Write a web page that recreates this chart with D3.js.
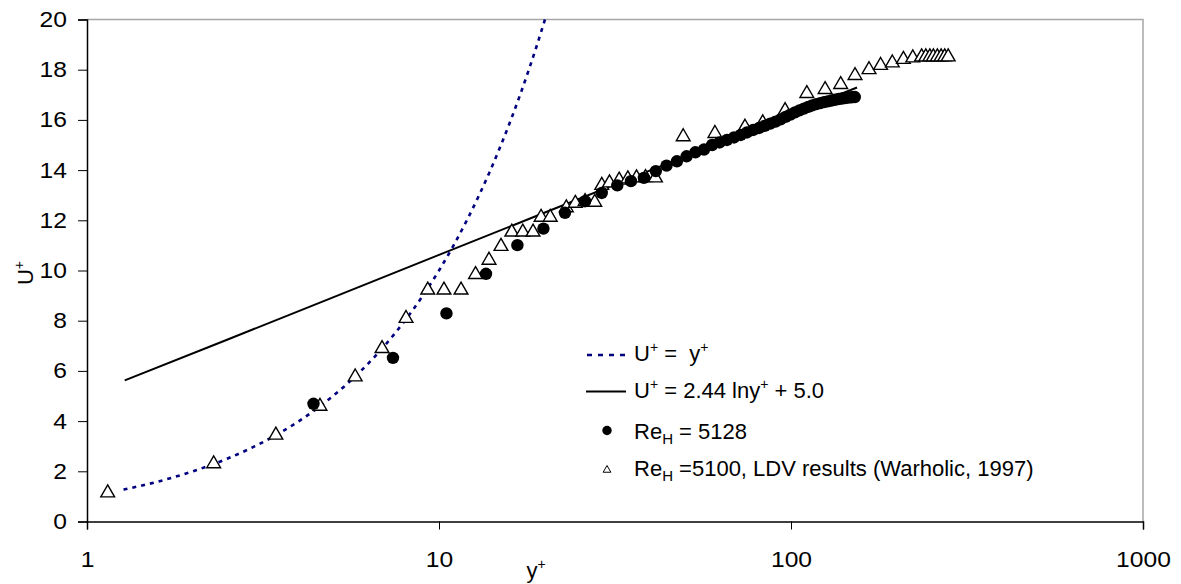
<!DOCTYPE html>
<html>
<head>
<meta charset="utf-8">
<script src="https://cdn.jsdelivr.net/npm/d3@7"></script>
<style>
	body { margin: 0; background: #fff; }
	svg { display: block; font-family: "Liberation Sans", Arial, sans-serif; }
	.axis text { font-size: 22px; fill: #000; }
	.axis path, .axis line { stroke: #000; }
</style>
</head>
<body>
<script>
// y+ / U+ values
var xTicks = [1, 10, 100, 1000];
var yTicks = [0, 2, 4, 6, 8, 10, 12, 14, 16, 18, 20];

// U+ = y+ (viscous sublayer)
var linearYp = [1.27, 1.5, 2, 2.5, 3, 3.5, 4, 5, 6, 7, 8, 9, 10, 11, 12, 13, 14, 15, 16, 17, 18, 19, 20];
var linearUp = [1.27, 1.5, 2, 2.5, 3, 3.5, 4, 5, 6, 7, 8, 9, 10, 11, 12, 13, 14, 15, 16, 17, 18, 19, 20];

// U+ = 2.44 ln y+ + 5.0 (log law)
var logYp = [1.28, 2.5, 5, 10, 20, 40, 80, 154];
var logUp = [5.62, 7.24, 8.93, 10.62, 12.31, 14.0, 15.69, 17.29];

// Re_H = 5128
var simYp = [4.4, 7.4, 10.5, 13.6, 16.7, 19.8, 22.8, 26.0, 29.0, 32.1, 35.1, 38.2, 41.3, 44.3, 47.4,
	50.5, 53.5, 56.6, 59.7, 62.7, 65.8, 68.9, 72.0, 75.0, 78.1, 81.2, 84.2, 87.3, 90.4, 93.4,
	96.5, 99.6, 102.6, 105.7, 108.8, 111.9, 114.9, 118.0, 121.1, 124.1, 127.2, 130.3, 133.3,
	136.4, 139.5, 142.5, 145.6, 148.7, 151.8];
var simUp = [4.69, 6.52, 8.29, 9.87, 11.01, 11.67, 12.30, 12.76, 13.09, 13.39, 13.56, 13.69, 13.96, 14.18, 14.35,
	14.55, 14.71, 14.82, 15.00, 15.10, 15.20, 15.30, 15.40, 15.50, 15.60, 15.68, 15.76, 15.85, 15.93, 16.02,
	16.12, 16.21, 16.30, 16.38, 16.45, 16.52, 16.58, 16.63, 16.67, 16.71, 16.74, 16.77, 16.80,
	16.83, 16.85, 16.87, 16.89, 16.90, 16.91];

// Re_H = 5100, LDV (Warholic, 1997)
var ldvYp = [1.145, 2.29, 3.44, 4.59, 5.78, 6.89, 8.06, 9.29, 10.33, 11.55, 12.7, 13.87, 15.0, 16.1, 17.3, 18.5,
	19.5, 20.7, 23.0, 24.4, 26.0, 27.7, 29.0, 30.5, 32.5, 34.4, 36.4, 38.6, 41.2, 49.4, 60.8, 74.0, 83.1,
	96.2, 110.9, 125.0, 138.4, 152.0, 166.6, 179.7, 194.0, 208.6, 221.8, 235.0, 241.5, 248.0, 253.8,
	260.5, 267.0, 273.3, 279.6];
var ldvUp = [1.14, 2.30, 3.44, 4.59, 5.76, 6.89, 8.09, 9.22, 9.22, 9.22, 9.84, 10.41, 10.96, 11.53, 11.53, 11.53,
	12.12, 12.12, 12.50, 12.68, 12.75, 12.72, 13.39, 13.49, 13.60, 13.65, 13.69, 13.70, 13.69, 15.33, 15.46, 15.71, 15.88,
	16.37, 17.05, 17.21, 17.41, 17.77, 18.00, 18.17, 18.27, 18.41, 18.47, 18.51, 18.51, 18.51, 18.51,
	18.51, 18.51, 18.51, 18.51];

var width = 1181, height = 584;
var plotLeft = 87, plotRight = 1143, plotTop = 19.5, plotBottom = 521.5;

var x = d3.scaleLog().domain([1, 1000]).range([plotLeft, plotRight]);
var y = d3.scaleLinear().domain([0, 20]).range([plotBottom, plotTop]);

var zip = function(a, b) { return a.map(function(v, i) { return [v, b[i]]; }); };

var svg = d3.select(document.body).append('svg')
	.attr('width', width)
	.attr('height', height);

// plot frame: grey top / right edges
svg.append('path')
	.attr('d', 'M' + plotLeft + ',' + plotTop + 'H' + plotRight + 'V' + plotBottom)
	.attr('fill', 'none')
	.attr('stroke', '#a6a6a6')
	.attr('stroke-width', 1.5);

var yAxis = d3.axisLeft(y).tickValues(yTicks).tickSize(9).tickPadding(11);
var gy = svg.append('g')
	.attr('class', 'axis')
	.attr('transform', 'translate(' + plotLeft + ',0)')
	.call(yAxis);
// labels in the picture are a little wider than plain Arial
gy.selectAll('.tick text')
	.attr('x', null)
	.attr('transform', 'translate(-20,0) scale(1.12,1)');

var xAxis = d3.axisBottom(x).tickValues(xTicks).tickFormat(d3.format('d')).tickSize(8).tickPadding(22);
var gx = svg.append('g')
	.attr('class', 'axis')
	.attr('transform', 'translate(0,' + plotBottom + ')')
	.call(xAxis);
gx.selectAll('.tick text')
	.attr('y', null)
	.attr('transform', 'translate(0,30) scale(1.12,1)');
svg.selectAll('.axis path').attr('stroke-width', 1.5);

// lines
var line = d3.line()
	.x(function(d) { return x(d[0]); })
	.y(function(d) { return y(d[1]); });

svg.append('path')
	.datum(zip(linearYp, linearUp))
	.attr('fill', 'none')
	.attr('stroke', '#000080')
	.attr('stroke-width', 2.6)
	.attr('stroke-dasharray', '4,5')
	.attr('d', line.curve(d3.curveMonotoneX));

svg.append('path')
	.datum(zip(logYp, logUp))
	.attr('fill', 'none')
	.attr('stroke', '#000')
	.attr('stroke-width', 2)
	.attr('d', line.curve(d3.curveLinear));

// LDV triangles
var tri = d3.symbol().type(d3.symbolTriangle).size(82);
svg.append('g').selectAll('path')
	.data(zip(ldvYp, ldvUp))
	.enter().append('path')
		.attr('d', tri)
		.attr('transform', function(d) { return 'translate(' + x(d[0]) + ',' + y(d[1]) + ')'; })
		.attr('fill', '#fff')
		.attr('stroke', '#000')
		.attr('stroke-width', 1.4);

// simulation dots
svg.append('g').selectAll('circle')
	.data(zip(simYp, simUp))
	.enter().append('circle')
		.attr('cx', function(d) { return x(d[0]); })
		.attr('cy', function(d) { return y(d[1]); })
		.attr('r', 6.2)
		.attr('fill', '#000');

// rich text: parts are [text, shift] with shift 'sup', 'sub' or none
var rich = function(t, parts) {
	var off = { sup: -9, sub: 5 }, size = { sup: 14, sub: 15 }, prev = 0;
	parts.forEach(function(p) {
		var cur = off[p[1]] || 0;
		var ts = t.append('tspan').attr('dy', cur - prev).text(p[0]);
		if (size[p[1]]) ts.attr('font-size', size[p[1]]);
		prev = cur;
	});
	t.attr('xml:space', 'preserve');
	return t;
};

// axis titles
rich(svg.append('text')
	.attr('transform', 'translate(33,273) rotate(-90)')
	.attr('text-anchor', 'middle')
	.attr('font-size', 22), [['U'], ['+', 'sup']]);

rich(svg.append('text')
	.attr('x', 536)
	.attr('y', 578)
	.attr('text-anchor', 'middle')
	.attr('font-size', 22), [['y'], ['+', 'sup']]);

// legend
var lg = svg.append('g').attr('font-size', 22);
lg.append('line')
	.attr('x1', 587).attr('x2', 628).attr('y1', 355).attr('y2', 355)
	.attr('stroke', '#000080').attr('stroke-width', 2.6).attr('stroke-dasharray', '5,6');
lg.append('line')
	.attr('x1', 586).attr('x2', 626).attr('y1', 391.5).attr('y2', 391.5)
	.attr('stroke', '#000').attr('stroke-width', 2);
lg.append('circle')
	.attr('cx', 607).attr('cy', 430.5).attr('r', 4.7).attr('fill', '#000');
lg.append('path')
	.attr('d', d3.symbol().type(d3.symbolTriangle).size(26))
	.attr('transform', 'translate(607,470)')
	.attr('fill', '#fff').attr('stroke', '#000').attr('stroke-width', 1);

rich(lg.append('text').attr('x', 634).attr('y', 361),
	[['U'], ['+', 'sup'], [' =  y'], ['+', 'sup']]);
rich(lg.append('text').attr('x', 634).attr('y', 398),
	[['U'], ['+', 'sup'], [' = 2.44 lny'], ['+', 'sup'], [' + 5.0']]);
rich(lg.append('text').attr('x', 634).attr('y', 439),
	[['Re'], ['H', 'sub'], [' = 5128']]);
rich(lg.append('text').attr('x', 634).attr('y', 476),
	[['Re'], ['H', 'sub'], [' =5100, LDV results (Warholic, 1997)']]);
</script>
</body>
</html>
